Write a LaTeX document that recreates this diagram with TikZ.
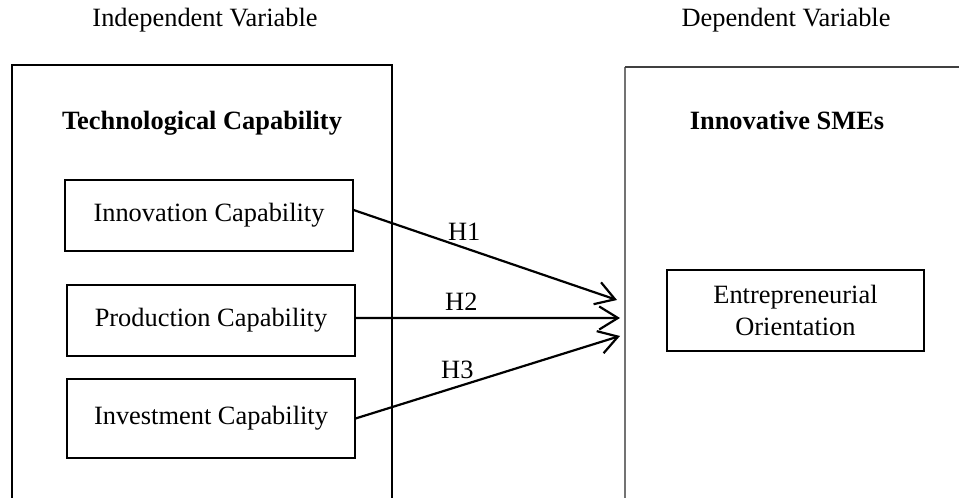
\documentclass[tikz,border=0pt]{standalone}
\usepackage{fontspec}
\setmainfont{Liberation Serif}
\usetikzlibrary{positioning,arrows.meta}
\tikzset{
  varbox/.style={draw, line width=0.5pt, minimum width=130.9pt, minimum height=32.3pt, inner sep=0pt, font=\fontsize{12}{14.5}\selectfont},
  hyp/.style={-{Straight Barb[length=8.5pt,width=10.5pt,line width=1pt]}, line width=1pt},
  hlabel/.style={above, font=\fontsize{12}{14.5}\selectfont, inner sep=3pt}
}

\begin{document}
\begin{tikzpicture}[x=0.4545pt,y=-0.4545pt]
\useasboundingbox (0,0) rectangle (959,498);
% headings
\node[font=\fontsize{12}{14.5}\selectfont] (indep) at (205,20) {Independent Variable};
\node[font=\fontsize{12}{14.5}\selectfont] (dep) at (786,20) {Dependent Variable};
% the two frames, open at the bottom
\draw[line width=0.5pt] (12,498) -- (12,65) -- (392,65) -- (392,498);
\draw[line width=0.6pt, black!55] (625,498) -- (625,67);
\draw[line width=0.6pt, black!75] (625,67) -- (959,67);
\node[font=\fontsize{12}{14.5}\selectfont\bfseries] (tech) at (202,123) {Technological Capability};
\node[font=\fontsize{12}{14.5}\selectfont\bfseries] (smes) at (787,120) {Innovative SMEs};
% boxes
\node[varbox] (inno) at (209,215.5) {Innovation Capability};
\node[varbox] (prod) at (211,320.5) {Production Capability};
\node[varbox, minimum height=35.9pt] (inv) at (211,418.5) {Investment Capability};
\node[varbox, minimum width=116.8pt, minimum height=36.8pt, align=center] (eo) at (795.5,310.5) {Entrepreneurial\\Orientation};
% arrow ends
\coordinate (h1end) at (617,300);
\coordinate (h2end) at (620,318);
\coordinate (h3end) at (620,336);
\draw[hyp] ([yshift=2.5pt]inno.east) -- (h1end) node[hlabel, pos=0.42] {H1};
\draw[hyp] ([yshift=1.1pt]prod.east) -- (h2end) node[hlabel, pos=0.40] {H2};
\draw[hyp] (inv.east) -- (h3end) node[hlabel, pos=0.385] {H3};
\end{tikzpicture}
\end{document}
